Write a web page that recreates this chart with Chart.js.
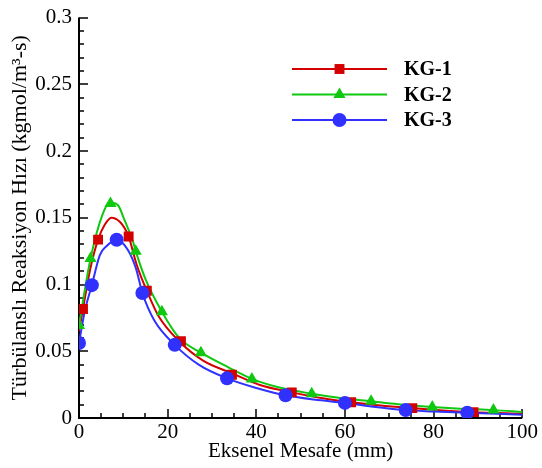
<!DOCTYPE html>
<html>
<head>
<meta charset="utf-8">
<script src="https://cdn.jsdelivr.net/npm/chart.js@4.4.1/dist/chart.umd.min.js"></script>
<style>
    html, body { margin: 0; padding: 0; background: #fff; }
</style>
</head>
<body>
<canvas id="rateChart" width="542" height="468"></canvas>
<script>
// Series names and colours
const seriesNames = ['KG-1', 'KG-2', 'KG-3'];
const seriesColors = ['#d40000', '#10c810', '#3030ff'];
const seriesMarkers = ['rect', 'triangle', 'circle'];

// Axis ticks
const xTickValues = [0, 20, 40, 60, 80, 100];
const xTickLabels = ['0', '20', '40', '60', '80', '100'];
const yTickValues = [0, 0.05, 0.1, 0.15, 0.2, 0.25, 0.3];
const yTickLabels = ['0', '0.05', '0.1', '0.15', '0.2', '0.25', '0.3'];
const xMinorStep = 5;
const yMinorStep = 0.01;

// KG-1 fitted curve and sample points
const kg1CurveX = [0, 0.9, 2.5, 4.3, 5.8, 7.3, 9.2, 10.7, 11.2, 13, 15.3, 18, 22.6, 28, 34.5, 41, 48, 55, 61.4, 68, 75.2, 82, 89, 100];
const kg1CurveY = [0.065, 0.0816, 0.111, 0.1336, 0.1447, 0.150, 0.147, 0.1398, 0.136, 0.115, 0.0953, 0.076, 0.0575, 0.043, 0.0335, 0.0245, 0.0192, 0.0148, 0.0118, 0.0094, 0.0074, 0.0057, 0.0044, 0.0032];
const kg1PointX = [0.9, 4.3, 11.2, 15.3, 23, 34.5, 48, 61.4, 75.2, 89];
const kg1PointY = [0.0816, 0.1336, 0.136, 0.0953, 0.0575, 0.0324, 0.0192, 0.0118, 0.0074, 0.0044];

// KG-2
const kg2CurveX = [0, 2.6, 5.4, 7.0, 8.8, 10.3, 12.2, 12.8, 15, 18.7, 22.6, 27.5, 33.8, 39, 45, 52.5, 59, 65.9, 72, 79.7, 86, 93.5, 100];
const kg2CurveY = [0.0698, 0.1194, 0.1533, 0.1615, 0.1594, 0.148, 0.132, 0.125, 0.104, 0.0796, 0.06, 0.0489, 0.0378, 0.0293, 0.023, 0.0182, 0.015, 0.0125, 0.0103, 0.0083, 0.007, 0.0059, 0.0045];
const kg2PointX = [0, 2.6, 7.1, 12.8, 18.7, 27.5, 39, 52.5, 65.9, 79.7, 93.5];
const kg2PointY = [0.0693, 0.1194, 0.1607, 0.125, 0.0796, 0.0489, 0.0293, 0.0182, 0.0125, 0.0083, 0.0059];

// KG-3
const kg3CurveX = [0, 1.3, 2.9, 4.7, 6.2, 8.5, 11, 12.9, 14.3, 17, 21.6, 27, 33.4, 40, 46.6, 53, 60, 67, 73.7, 80, 87.6, 100];
const kg3CurveY = [0.0562, 0.08, 0.0995, 0.122, 0.1287, 0.1335, 0.126, 0.1115, 0.0936, 0.073, 0.0548, 0.040, 0.0297, 0.0225, 0.017, 0.0138, 0.0113, 0.0083, 0.0059, 0.0049, 0.0039, 0.0025];
const kg3PointX = [0, 2.9, 8.5, 14.3, 21.6, 33.4, 46.6, 60, 73.7, 87.6];
const kg3PointY = [0.0562, 0.0995, 0.1335, 0.0936, 0.0548, 0.0297, 0.017, 0.0113, 0.0059, 0.0039];

const serifFont = 'Liberation Serif';
Chart.defaults.font.family = serifFont;
Chart.defaults.font.size = 21;
Chart.defaults.color = '#000';

const tickFont = () => ({ family: serifFont, size: 21, style: 'normal', weight: 'normal', lineHeight: 1 });

function toXY(xs, ys) {
    return xs.map((x, i) => ({ x: x, y: ys[i] }));
}

const curves = [toXY(kg1CurveX, kg1CurveY), toXY(kg2CurveX, kg2CurveY), toXY(kg3CurveX, kg3CurveY)];
const samples = [toXY(kg1PointX, kg1PointY), toXY(kg2PointX, kg2PointY), toXY(kg3PointX, kg3PointY)];

const datasets = [];
seriesNames.forEach((name, i) => {
    datasets.push({
        label: name,
        data: curves[i],
        borderColor: seriesColors[i],
        borderWidth: 2,
        pointRadius: 0,
        cubicInterpolationMode: 'monotone',
        order: 5 - i
    });
});
seriesNames.forEach((name, i) => {
    datasets.push({
        label: name + ' points',
        data: samples[i],
        showLine: false,
        pointStyle: seriesMarkers[i],
        pointRadius: 7,
        pointBackgroundColor: seriesColors[i],
        pointBorderColor: seriesColors[i],
        pointBorderWidth: 0,
        order: 2 - i
    });
});

// Axis lines with inward major/minor ticks
const axisTicks = {
    id: 'axisTicks',
    beforeDatasetsDraw(chart) {
        const { ctx, chartArea, scales } = chart;
        const xs = scales.x, ys = scales.y;
        ctx.save();
        ctx.strokeStyle = '#000';
        ctx.lineWidth = 1.5;
        ctx.beginPath();
        for (let v = 0; v <= 100 + 1e-9; v += xMinorStep) {
            const px = Math.round(xs.getPixelForValue(v));
            const len = xTickValues.includes(v) ? 9 : 5;
            ctx.moveTo(px, chartArea.bottom);
            ctx.lineTo(px, chartArea.bottom - len);
        }
        for (let k = 0; k <= 30; k++) {
            const v = k * yMinorStep;
            const py = Math.round(ys.getPixelForValue(v));
            const len = (k % 5 === 0) ? 9 : 5;
            ctx.moveTo(chartArea.left, py);
            ctx.lineTo(chartArea.left + len, py);
        }
        ctx.stroke();
        ctx.lineWidth = 2;
        ctx.beginPath();
        ctx.moveTo(chartArea.left, chartArea.top);
        ctx.lineTo(chartArea.left, chartArea.bottom);
        ctx.lineTo(chartArea.right, chartArea.bottom);
        ctx.stroke();
        ctx.restore();
    }
};

// Legend: line with marker in the middle, bold name to the right
const lineLegend = {
    id: 'lineLegend',
    afterDraw(chart) {
        const ctx = chart.ctx;
        const x0 = 292, x1 = 387, textX = 404;
        const rows = [69, 94.5, 120];
        ctx.save();
        seriesNames.forEach((name, i) => {
            const y = rows[i];
            ctx.strokeStyle = seriesColors[i];
            ctx.lineWidth = 2;
            ctx.beginPath();
            ctx.moveTo(x0, y);
            ctx.lineTo(x1, y);
            ctx.stroke();
            ctx.fillStyle = seriesColors[i];
            Chart.helpers.drawPoint(ctx, { pointStyle: seriesMarkers[i], radius: 7, borderWidth: 0 }, (x0 + x1) / 2, y);
            ctx.fillStyle = '#000';
            ctx.font = 'bold 20px "' + serifFont + '"';
            ctx.textBaseline = 'middle';
            ctx.textAlign = 'left';
            ctx.fillText(name, textX, y + 1);
        });
        ctx.restore();
    }
};

new Chart(document.getElementById('rateChart'), {
    type: 'line',
    data: { datasets: datasets },
    options: {
        responsive: false,
        animation: false,
        layout: { padding: { top: 11, right: 16, left: 0, bottom: 0 } },
        plugins: {
            legend: { display: false },
            tooltip: { enabled: false }
        },
        scales: {
            x: {
                type: 'linear',
                min: 0,
                max: 100,
                afterBuildTicks: s => { s.ticks = xTickValues.map(v => ({ value: v })); },
                afterFit: s => { s.height = 50; },
                grid: { display: false, drawTicks: false },
                border: { display: false },
                ticks: {
                    padding: 4,
                    color: '#000',
                    font: tickFont,
                    maxRotation: 0,
                    callback: (v, i) => xTickLabels[i]
                },
                title: {
                    display: true,
                    text: 'Eksenel Mesafe (mm)',
                    color: '#000',
                    font: { size: 21, lineHeight: 1.2 },
                    padding: { top: 0, bottom: 4 }
                }
            },
            y: {
                type: 'linear',
                min: 0,
                max: 0.3,
                afterBuildTicks: s => { s.ticks = yTickValues.map(v => ({ value: v })); },
                afterFit: s => { s.width = 79; },
                grid: { display: false, drawTicks: false },
                border: { display: false },
                ticks: {
                    padding: 7,
                    color: '#000',
                    font: tickFont,
                    callback: (v, i) => yTickLabels[i]
                },
                title: {
                    display: true,
                    text: 'Türbülanslı Reaksiyon Hızı (kgmol/m³-s)',
                    color: '#000',
                    font: { size: 22, lineHeight: 1.2 },
                    padding: { top: 7, bottom: 0 }
                }
            }
        }
    },
    plugins: [axisTicks, lineLegend]
});
</script>
</body>
</html>
